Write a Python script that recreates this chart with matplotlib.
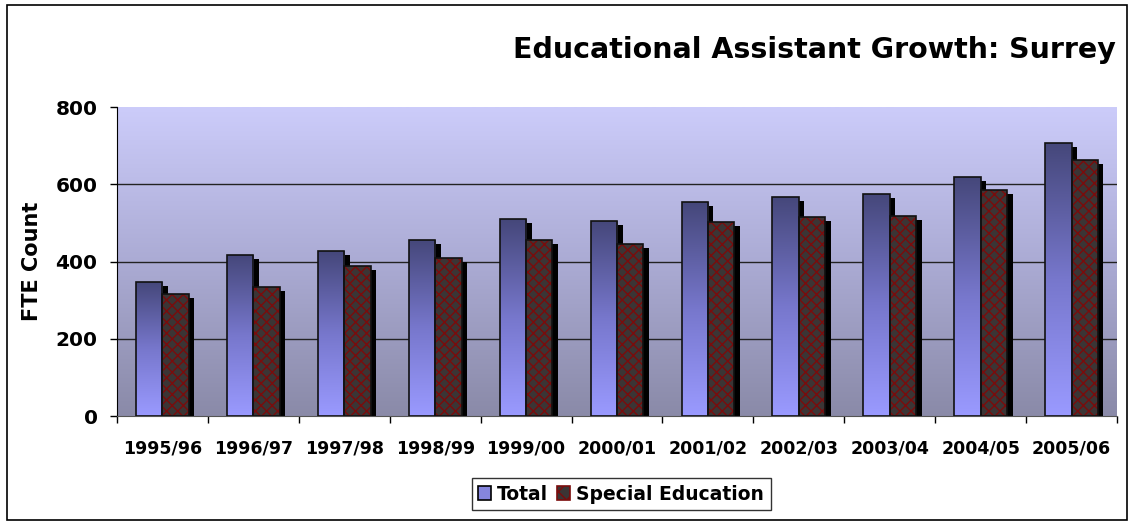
import numpy as np
import matplotlib
matplotlib.use('Agg')
import matplotlib.pyplot as plt
import matplotlib.patheffects as pe
from matplotlib.colors import LinearSegmentedColormap
from matplotlib.patches import Rectangle, Patch

# data
years = ['1995/96', '1996/97', '1997/98', '1998/99', '1999/00', '2000/01',
         '2001/02', '2002/03', '2003/04', '2004/05', '2005/06']
total = [347, 418, 427, 456, 510, 505, 554, 567, 576, 620, 708]
special = [317, 334, 388, 409, 456, 445, 502, 515, 518, 585, 663]

plt.rcParams['font.family'] = 'DejaVu Sans'
plt.rcParams['hatch.linewidth'] = 1.0

fig = plt.figure(figsize=(11.29, 5.23), dpi=100)
ax = fig.add_axes([117 / 1129, 107 / 523, 1000 / 1129, 309 / 523])

x = np.arange(len(years))
w = 0.29

# background gradient
bg = LinearSegmentedColormap.from_list('bg', ['#8a8aa8', '#ababd4', '#ccccfa'])
ax.imshow(np.linspace(0, 1, 256).reshape(-1, 1), cmap=bg, aspect='auto',
          extent=[-0.5, len(years) - 0.5, 0, 800], origin='lower', zorder=0)

for yv in [200, 400, 600]:
    ax.axhline(yv, color='#222222', lw=1.0, zorder=1)

shadow = [pe.SimplePatchShadow(offset=(4, -3), shadow_rgbFace='black', alpha=1.0), pe.Normal()]

# total bars with vertical gradient
bar_cm = LinearSegmentedColormap.from_list('bar', ['#9a9aff', '#7777cc', '#45477a'])
bars1 = ax.bar(x - w / 2, total, w, color='none', edgecolor='#111111', lw=1.2, zorder=3)
for b in bars1:
    sh = Rectangle(b.get_xy(), b.get_width(), b.get_height(), facecolor='#888888',
                   edgecolor='none', zorder=2, path_effects=shadow)
    ax.add_patch(sh)
    im = ax.imshow(np.linspace(0, 1, 256).reshape(-1, 1), cmap=bar_cm, aspect='auto',
                   extent=[b.get_x(), b.get_x() + b.get_width(), 0, b.get_height()],
                   origin='lower', zorder=2.5)
    im.set_clip_path(b)

# special education bars, cross hatched, plain black shadow behind
ax.bar(x + w / 2, special, w, color='#3b3535', lw=0, zorder=1.8, path_effects=shadow)
ax.bar(x + w / 2, special, w, color='#3b3535', edgecolor='#7a0c0c', hatch='xxx',
       lw=0, zorder=2)
ax.bar(x + w / 2, special, w, color='none', edgecolor='#111111', lw=1.2, zorder=3)

ax.set_xlim(-0.5, len(years) - 0.5)
ax.set_ylim(0, 800)
ax.set_yticks([0, 200, 400, 600, 800])
ax.set_yticklabels(['0', '200', '400', '600', '800'], fontsize=14.5, fontweight='bold')
ax.set_xticks(x)
ax.set_xticklabels(years, fontsize=12.5, fontweight='bold')
ax.tick_params(axis='x', length=0, pad=17)
ax.set_xticks(np.arange(len(years) + 1) - 0.5, minor=True)
ax.tick_params(axis='x', which='minor', length=5, direction='out', width=1)
ax.tick_params(axis='y', length=5, width=1, pad=9)
for s in ['top', 'right']:
    ax.spines[s].set_visible(False)
ax.spines['left'].set_color('black')
ax.spines['bottom'].set_color('#555555')
ax.set_ylabel('FTE Count', fontsize=15, fontweight='bold', labelpad=10)

fig.text(1116 / 1129, 1 - 50 / 523, 'Educational Assistant Growth: Surrey',
         ha='right', va='center', fontsize=20.5, fontweight='bold')

handles = [Patch(facecolor='#8585dd', edgecolor='black', lw=1.2),
           Patch(facecolor='#3b3535', edgecolor='#7a0c0c', hatch='xx', lw=1.2)]
leg = fig.legend(handles, ['Total', 'Special Education'], loc='center',
                 bbox_to_anchor=(621 / 1129, 1 - 494 / 523), ncol=2,
                 prop={'weight': 'bold', 'size': 13.5}, frameon=True, fancybox=False,
                 handlelength=0.7, handleheight=0.7, handletextpad=0.3, columnspacing=0.5,
                 borderpad=0.35, edgecolor='black')
leg.get_frame().set_linewidth(1.0)

# outer chart border
fig.patches.append(Rectangle((7 / 1129, 3 / 523), 1120 / 1129, 515 / 523,
                             transform=fig.transFigure, fill=False, edgecolor='black', lw=1.2))

plt.savefig('out.png', dpi=100)
